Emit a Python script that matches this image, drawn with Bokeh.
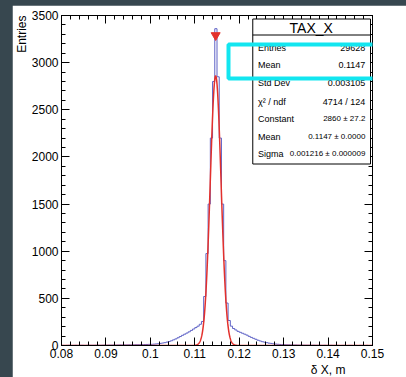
import numpy as np
from bokeh.plotting import figure
from bokeh.models import (Range1d, SingleIntervalTicker, LinearAxis, CustomJSTickFormatter, Title)
from bokeh.layouts import column
from bokeh.embed import file_html
from bokeh.resources import INLINE
from bokeh.core.properties import value

# ---------------- data ----------------
hist_title = "TAX_X"
x_title = "δ X, m"
y_title = "Entries"
bin_lo = 0.08
bin_width = 0.0005
counts = [
    # 0.080 - 0.090
    1, 0, 1, 2, 1, 1, 2, 1, 2, 2, 1, 2, 3, 2, 2, 3, 3, 2, 3, 4,
    # 0.090 - 0.100
    3, 4, 4, 5, 4, 5, 6, 5, 6, 6, 7, 6, 7, 8, 8, 9, 10, 10, 11, 12,
    # 0.100 - 0.110
    12, 14, 16, 18, 22, 26, 30, 36, 42, 50, 60, 70, 82, 95, 108, 120, 132, 145, 160, 175,
    # 0.110 - 0.120
    190, 205, 225, 255, 520, 975, 1500, 2200, 2800, 3360, 2850, 2200, 1500, 900, 450, 265, 205, 180, 165, 150,
    # 0.120 - 0.130
    140, 130, 120, 110, 97, 86, 76, 66, 56, 48, 40, 35, 30, 25, 22, 18, 15, 13, 11, 9,
    # 0.130 - 0.140
    8, 7, 7, 6, 5, 5, 4, 4, 4, 3, 3, 3, 2, 3, 2, 2, 2, 1, 2, 1,
    # 0.140 - 0.150
    1, 2, 1, 1, 1, 0, 1, 1, 0, 1, 1, 0, 1, 0, 1, 1, 0, 1, 0, 1,
]
fit_constant = 2860.0
fit_mean = 0.1147
fit_sigma = 0.001216
peak_marker_y = 3290
stat_labels = ["Entries", "Mean", "Std Dev", "χ² / ndf", "Constant", "Mean", "Sigma"]
stat_values = ["29628", "0.1147", "0.003105", "4714 / 124", "2860 ± 27.2",
               "0.1147 ± 0.0000", "0.001216 ± 0.000009"]
x_lo, x_hi = 0.08, 0.15
y_lo, y_hi = 0, 3500

# ---------------- layout (page pixels) ----------------
W, H = 406, 377
OFF_X, OFF_Y = 12, 5
FIG_W, FIG_H = W - OFF_X, H - OFF_Y
FL, FR, FT, FB = 60, 372, 15, 345   # frame edges in page px
FONT = "Liberation Sans"

p = figure(width=FIG_W, height=FIG_H, output_backend="svg", toolbar_location=None,
           x_range=Range1d(x_lo, x_hi), y_range=Range1d(y_lo, y_hi),
           min_border_left=FL - OFF_X, min_border_right=OFF_X + FIG_W - FR,
           min_border_top=FT - OFF_Y, min_border_bottom=OFF_Y + FIG_H - FB,
           background_fill_color="white", border_fill_color="white")
p.margin = (OFF_Y, 0, 0, OFF_X)
p.outline_line_color = "black"
p.outline_line_width = 1
p.xgrid.visible = False
p.ygrid.visible = False

xfmt = CustomJSTickFormatter(code="return (Math.round(tick*100)/100).toString();")
blank = CustomJSTickFormatter(code="return '';")

def style_axis(ax, ticker):
    ax.ticker = ticker
    ax.axis_line_color = "black"
    ax.major_tick_in = 8
    ax.major_tick_out = 0
    ax.minor_tick_in = 4
    ax.minor_tick_out = 0
    ax.major_tick_line_color = "black"
    ax.minor_tick_line_color = "black"
    ax.major_label_text_font = FONT
    ax.major_label_text_font_size = "12px"
    ax.major_label_text_color = "black"

style_axis(p.xaxis[0], SingleIntervalTicker(interval=0.01, num_minor_ticks=5))
p.xaxis[0].formatter = xfmt
p.xaxis[0].major_label_standoff = 3
style_axis(p.yaxis[0], SingleIntervalTicker(interval=500, num_minor_ticks=5))
p.yaxis[0].major_label_standoff = 3

top_ax = LinearAxis(formatter=blank)
style_axis(top_ax, SingleIntervalTicker(interval=0.01, num_minor_ticks=5))
top_ax.major_label_standoff = 0
p.add_layout(top_ax, "above")
right_ax = LinearAxis(formatter=blank)
style_axis(right_ax, SingleIntervalTicker(interval=500, num_minor_ticks=5))
right_ax.major_label_standoff = 0
p.add_layout(right_ax, "right")

# y-axis title, right-aligned at the top like ROOT
p.add_layout(Title(text=y_title, align="right", text_font=FONT, text_font_size="12px",
                   text_font_style="normal", text_color="black", standoff=0), "left")

# histogram as steps
edges = [bin_lo + i * bin_width for i in range(len(counts) + 1)]
ys = list(counts) + [counts[-1]]
p.step(x=edges, y=ys, mode="after", line_color="#5f63c6", line_width=1)

# gaussian fit curve from the fit parameters
xf = np.linspace(x_lo, x_hi, 1400)
yf = fit_constant * np.exp(-0.5 * ((xf - fit_mean) / fit_sigma) ** 2)
p.line(xf, yf, line_color="#e3302c", line_width=1.5)

p.scatter(x=[fit_mean], y=[peak_marker_y], marker="inverted_triangle", size=9,
          fill_color="#e3302c", line_color="#e3302c")

# ---------------- overlay (page-pixel canvas) for x title and stats box ----------------
ov = figure(width=W, height=H, output_backend="svg", toolbar_location=None,
            x_range=Range1d(0, W), y_range=Range1d(0, H), min_border=0,
            x_axis_location=None, y_axis_location=None,
            background_fill_alpha=0, border_fill_alpha=0, outline_line_color=None)
ov.grid.visible = False
ov.styles = {"position": "absolute", "left": "0px", "top": "0px"}

def PY(py):
    return H - py

ov.text(x=[FR], y=[PY(369)], text=[x_title],
        text_align="right", text_baseline="middle",
        text_font=value(FONT), text_font_size="12px", text_color="black")

# stats box
SL, SR, ST, SB, SH = 255, 403, 18, 163, 34
ov.quad(left=[SL + 0.5], right=[SR + 0.5], top=[PY(ST + 0.5)], bottom=[PY(SB + 0.5)],
        fill_color="white", line_color="black", line_width=1)
ov.segment(x0=[SL + 0.5], x1=[SR + 0.5], y0=[PY(SH + 0.5)], y1=[PY(SH + 0.5)],
           line_color="black", line_width=1)
ov.text(x=[(SL + SR) / 2], y=[PY((ST + SH) / 2 + 1)], text=[hist_title],
        text_align="center", text_baseline="middle",
        text_font=value(FONT), text_font_size="14px", text_color="black")
row_px = [47, 64, 82, 101, 118, 136, 153]
row_y = [PY(v) for v in row_px]
ov.text(x=[262] * len(stat_labels), y=row_y, text=stat_labels, text_align="left",
        text_baseline="middle", text_font=value(FONT),
        text_font_size="9px", text_color="black")
plain = [i for i, v in enumerate(stat_values) if "±" not in v]
pm = [i for i, v in enumerate(stat_values) if "±" in v]
ov.text(x=[397] * len(plain), y=[row_y[i] for i in plain], text=[stat_values[i] for i in plain],
        text_align="right", text_baseline="middle", text_font=value(FONT),
        text_font_size="9px", text_color="black")
ov.text(x=[397] * len(pm), y=[row_y[i] for i in pm], text=[stat_values[i] for i in pm],
        text_align="right", text_baseline="middle", text_font=value(FONT),
        text_font_size="8px", text_color="black")

# cyan highlight box
ov.quad(left=[225], right=[412], top=[PY(44)], bottom=[PY(78)],
        fill_alpha=0, line_color="#12e6f0", line_width=4)

layout = column(p, ov, width=W, height=H, styles={"background-color": "#37474f"})
open("out.html", "w").write(file_html(layout, INLINE))
